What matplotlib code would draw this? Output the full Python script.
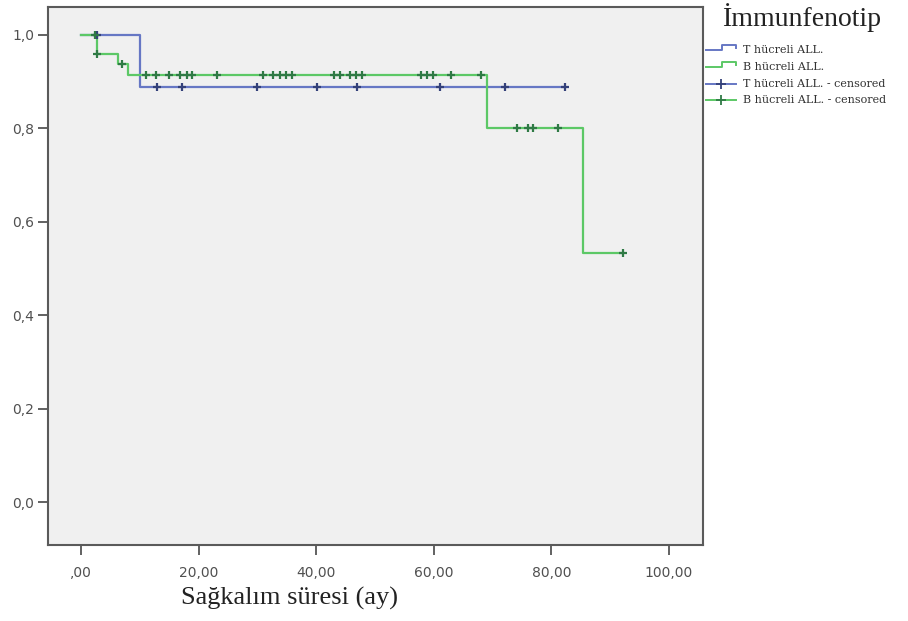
import numpy as np
import matplotlib
matplotlib.use("Agg")
import matplotlib.pyplot as plt
from matplotlib.lines import Line2D

# ---- data ----
t_event_times = [10.0]
t_event_surv = [0.889]
t_end = 82.3
t_censor = [2.7, 12.9, 17.1, 30.0, 40.1, 47.0, 61.0, 72.1, 82.3]

b_event_times = [2.8, 6.3, 8.0, 69.0, 85.3]
b_event_surv = [0.959, 0.937, 0.914, 0.800, 0.534]
b_end = 92.1
b_censor = [2.3, 2.8, 6.9, 11.05, 12.8, 15.0, 16.9, 18.0, 18.9, 23.1,
            31.0, 32.7, 33.8, 34.8, 35.9, 43.0, 44.0, 45.8, 46.8, 47.8,
            57.9, 58.8, 59.9, 63.0, 68.1, 74.1, 76.1, 76.9, 81.2, 92.1]

xticks = [0, 20, 40, 60, 80, 100]
xticklabels = [",00", "20,00", "40,00", "60,00", "80,00", "100,00"]
yticks = [0.0, 0.2, 0.4, 0.6, 0.8, 1.0]
yticklabels = ["0,0", "0,2", "0,4", "0,6", "0,8", "1,0"]

legend_title = "İmmunfenotip"
legend_labels = ["T hücreli ALL.", "B hücreli ALL.",
                 "T hücreli ALL. - censored", "B hücreli ALL. - censored"]
xlabel = "Sağkalım süresi (ay)"

# ---- styling ----
blue_line = "#6677c4"
green_line = "#5cc866"
blue_mark = "#34417a"
green_mark = "#2f7a45"

W, H = 908, 621
fig = plt.figure(figsize=(W / 100, H / 100), dpi=100)
fig.patch.set_facecolor("white")
ax = fig.add_axes([48 / W, 1 - 545 / H, (703 - 48) / W, (545 - 7) / H])
ax.set_facecolor("#f0f0f0")


def curve(ev_t, ev_s, end):
    xs = [0.0] + list(ev_t) + [end]
    ys = [1.0] + list(ev_s) + [ev_s[-1]]
    return np.array(xs), np.array(ys)


def surv_at(ev_t, ev_s, times):
    lv = np.array([1.0] + list(ev_s))
    idx = np.searchsorted(np.array(ev_t), np.array(times), side="right")
    return lv[idx]


bx, by = curve(b_event_times, b_event_surv, b_end)
tx, ty = curve(t_event_times, t_event_surv, t_end)

ax.step(tx, ty, where="post", color=blue_line, lw=1.6, zorder=3)
ax.step(bx, by, where="post", color=green_line, lw=1.6, zorder=4)

ax.plot(t_censor, surv_at(t_event_times, t_event_surv, t_censor), ls="none",
        marker="+", ms=6, mew=1.6, color=blue_mark, zorder=5)
ax.plot(b_censor, surv_at(b_event_times, b_event_surv, b_censor), ls="none",
        marker="+", ms=6, mew=1.6, color=green_mark, zorder=6)

# axes scale: x=0 at px 81, x=100 at px 669; y=1 at px 35, y=0 at px 502
px_per_x = (669 - 81) / 100
ax.set_xlim(-(81 - 48) / px_per_x, (703 - 81) / px_per_x)
px_per_y = (502 - 35) / 1.0
ax.set_ylim(-(545 - 502) / px_per_y, 1 + (35 - 7) / px_per_y)

ax.set_xticks(xticks)
ax.set_xticklabels(xticklabels)
ax.set_yticks(yticks)
ax.set_yticklabels(yticklabels)
for lab in ax.get_xticklabels() + ax.get_yticklabels():
    lab.set_fontfamily("DejaVu Sans")
    lab.set_fontsize(10)
    lab.set_color("#505050")
ax.tick_params(axis="both", direction="out", length=7, width=1.3, color="#555555")
ax.tick_params(axis="x", pad=8)
ax.tick_params(axis="y", pad=3)
for s in ax.spines.values():
    s.set_color("#5a5a5a")
    s.set_linewidth(1.5)

fig.text(181 / W, 1 - 598 / H, xlabel, ha="left", va="center",
         fontfamily="Liberation Serif", fontsize=19, color="#222222")

# ---- legend (drawn manually) ----
fig.text(722 / W, 1 - 18 / H, legend_title, ha="left", va="center",
         fontfamily="Liberation Serif", fontsize=20, color="#222222")
rows_y = [50, 67, 84, 100]
hx0, hx1 = 706, 736
handles = [(blue_line, None), (green_line, None), (blue_line, blue_mark), (green_line, green_mark)]
for i, (yy, (lc, mc)) in enumerate(zip(rows_y, handles)):
    yf = 1 - yy / H
    if mc is None:
        xs = np.array([hx0, 722, 722, hx1, hx1]) / W
        ys = np.array([yf, yf, yf + 5 / H, yf + 5 / H, yf + 2 / H])
        fig.add_artist(Line2D(xs, ys, color=lc, lw=1.4))
    else:
        fig.add_artist(Line2D([hx0 / W, hx1 / W], [yf, yf], color=lc, lw=1.4))
        fig.add_artist(Line2D([(hx0 + hx1) / 2 / W], [yf], color=mc, marker="+",
                              ms=7, mew=1.3, ls="none"))
    fig.text(743 / W, yf, legend_labels[i], ha="left", va="center",
             fontfamily="DejaVu Serif", fontsize=8, color="#333333")

fig.savefig("out.png", dpi=100, facecolor="white")
